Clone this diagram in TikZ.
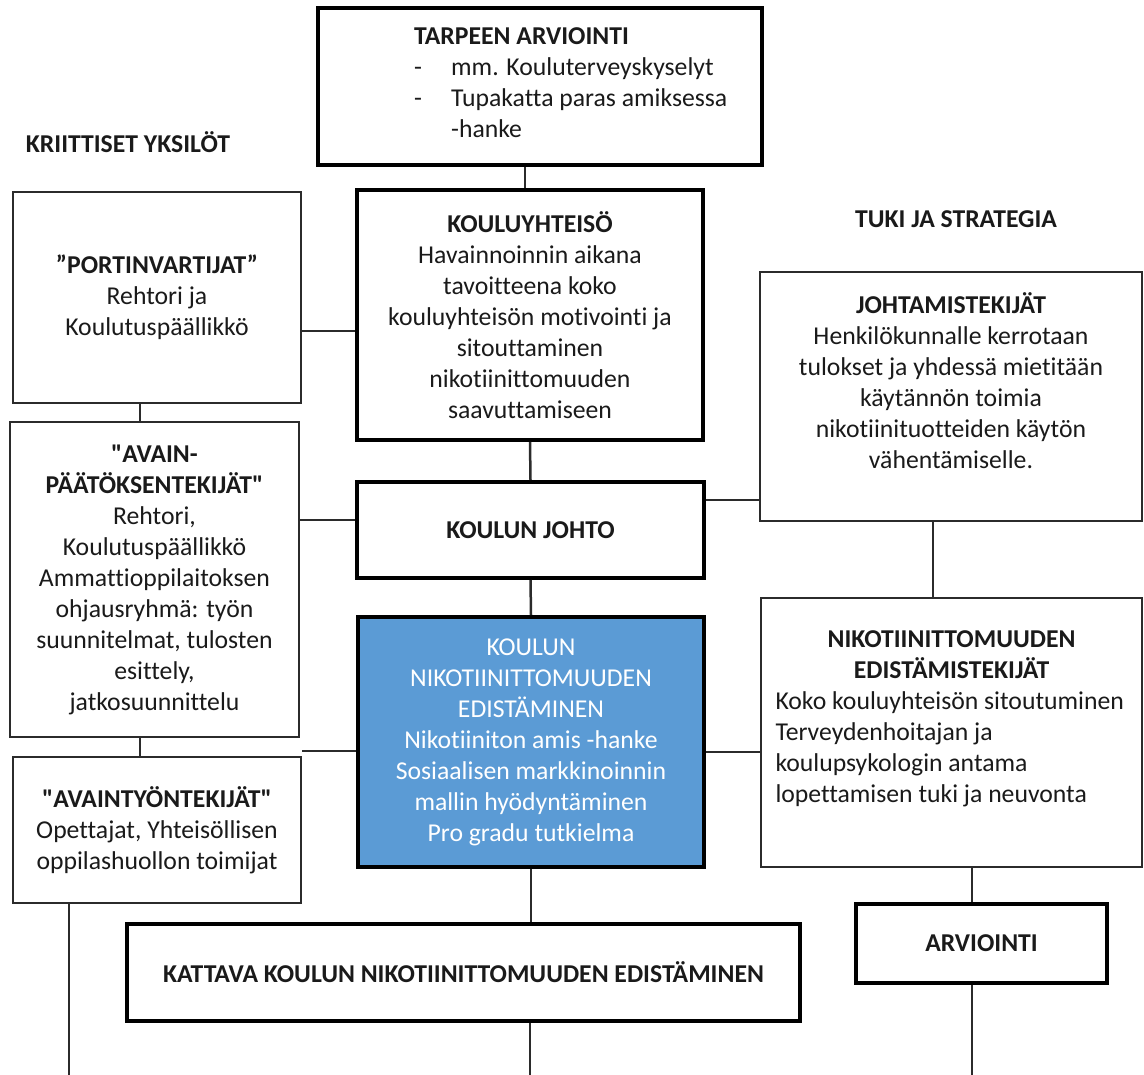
\documentclass[tikz,border=0pt]{standalone}
\usepackage{fontspec}
\setmainfont{Carlito}[Ligatures={TeXOff,NoCommon}]
\definecolor{KNblue}{HTML}{5B9BD5}
\definecolor{KNtext}{HTML}{1A1A1A}
\definecolor{KNline}{HTML}{2B2B2B}
\usetikzlibrary{calc}

\newcommand{\vasen}[1]{\makebox[352pt][l]{#1}}
\newcommand{\viiva}[1]{\makebox[37pt][l]{-}#1}

\begin{document}
\begin{tikzpicture}[x=1pt, y=-1pt,
      teksti/.style={font=\fontsize{25.7}{31}\selectfont, text=KNtext, align=center, inner sep=0pt},
      thinbox/.style={teksti, draw=KNline, line width=2pt, fill=white},
      thickbox/.style={teksti, draw=black, line width=4pt, fill=white},
      yhteys/.style={draw=KNline, line width=2.5pt}]
            \useasboundingbox (0,0) rectangle (1144,1075);
            % Top: need assessment
            \node[thickbox, minimum width=444, minimum height=157] (tarve) at (540,86.5) {};
            \node[teksti, anchor=west, align=left] (tarveteksti) at (414,83)
               {\textbf{TARPEEN ARVIOINTI}\\
                \viiva{mm. Kouluterveyskyselyt}\\
                \viiva{Tupakatta paras amiksessa}\\
                \hspace*{37pt}-hanke};
            % Column headings
            \node[teksti] (kriittiset) at (128,142) {\textbf{KRIITTISET YKSILÖT}};
            \node[teksti] (tuki) at (956,219) {\textbf{TUKI JA STRATEGIA}};
            % Left column: critical individuals
            \node[thinbox, minimum width=288, minimum height=211] (portti) at (157,297.5)
               {\textbf{”PORTINVARTIJAT”}\\Rehtori ja\\Koulutuspäällikkö};
            \node[thinbox, minimum width=289, minimum height=315] (avain) at (154.5,579.5)
               {\textbf{"AVAIN-}\\\textbf{PÄÄTÖKSENTEKIJÄT"}\\Rehtori,\\Koulutuspäällikkö\\
                Ammattioppilaitoksen\\ohjausryhmä: työn\\suunnitelmat, tulosten\\esittely,\\jatkosuunnittelu};
            \node[thinbox, minimum width=288, minimum height=146] (avaintyo) at (157,830)
               {\textbf{"AVAINTYÖNTEKIJÄT"}\\Opettajat, Yhteisöllisen\\oppilashuollon toimijat};
            % Middle column
            \node[thickbox, minimum width=346, minimum height=250] (yhteiso) at (530,315)
               {\textbf{KOULUYHTEISÖ}\\Havainnoinnin aikana\\tavoitteena koko\\kouluyhteisön motivointi ja\\
                sitouttaminen\\nikotiinittomuuden\\saavuttamiseen};
            \node[thickbox, minimum width=347, minimum height=96] (johto) at (530.5,530)
               {\textbf{KOULUN JOHTO}};
            \node[thickbox, fill=KNblue, text=white, minimum width=346, minimum height=250] (edist) at (531,742)
               {KOULUN\\NIKOTIINITTOMUUDEN\\EDISTÄMINEN\\Nikotiiniton amis -hanke\\
                Sosiaalisen markkinoinnin\\mallin hyödyntäminen\\Pro gradu tutkielma};
            \node[thickbox, minimum width=673, minimum height=97] (kattava) at (463.5,972.5)
               {\textbf{KATTAVA KOULUN NIKOTIINITTOMUUDEN EDISTÄMINEN}};
            % Right column: support and strategy
            \node[thinbox, minimum width=382, minimum height=249] (johtamis) at (951,396.5)
               {\textbf{JOHTAMISTEKIJÄT}\\Henkilökunnalle kerrotaan\\tulokset ja yhdessä mietitään\\
                käytännön toimia\\nikotiinituotteiden käytön\\vähentämiselle.\\\mbox{}};
            \node[thinbox, minimum width=381, minimum height=269] (niko) at (951.5,732.5)
               {\textbf{NIKOTIINITTOMUUDEN}\\\textbf{EDISTÄMISTEKIJÄT}\\
                \vasen{Koko kouluyhteisön sitoutuminen}\\\vasen{Terveydenhoitajan ja}\\
                \vasen{koulupsykologin antama}\\\vasen{lopettamisen tuki ja neuvonta}\\\mbox{}};
            \node[thickbox, minimum width=251, minimum height=79] (arviointi) at (981.5,943.5)
               {\textbf{ARVIOINTI}};
            % Connectors
            \draw[yhteys] (tarve.south -| 525,0) -- (yhteiso.north -| 525,0);
            \draw[yhteys] (portti.east |- 0,331) -- (yhteiso.west |- 0,331);
            \draw[yhteys] (portti.south -| 140,0) -- (avain.north -| 140,0);
            \draw[yhteys] (avain.south -| 140,0) -- (avaintyo.north -| 140,0);
            \draw[yhteys] (avain.east |- 0,520) -- (johto.west |- 0,520);
            \draw[yhteys] (avaintyo.east |- 0,751) -- (edist.west |- 0,751);
            \draw[yhteys] (yhteiso.south) -- (johto.north);
            \draw[yhteys] (johto.south) -- (edist.north);
            \draw[yhteys] (edist.south) -- (kattava.north -| edist.south);
            \draw[yhteys] (johto.east |- 0,500) -- (johtamis.west |- 0,500);
            \draw[yhteys] (johtamis.south -| 933,0) -- (niko.north -| 933,0);
            \draw[yhteys] (edist.east |- 0,752) -- (niko.west |- 0,752);
            \draw[yhteys] (niko.south -| 972,0) -- (arviointi.north -| 972,0);
            % Lines leaving the picture at the bottom
            \coordinate (alavasen) at (69,1075);
            \coordinate (alakeski) at (530,1075);
            \coordinate (alaoikea) at (972,1075);
            \draw[yhteys] (avaintyo.south -| alavasen) -- (alavasen);
            \draw[yhteys] (kattava.south -| alakeski) -- (alakeski);
            \draw[yhteys] (arviointi.south -| alaoikea) -- (alaoikea);
            \draw[gray!40, line width=1pt] ([yshift=-1.5]alavasen) -- ([yshift=-1.5]alaoikea);
         \end{tikzpicture}
\end{document}
